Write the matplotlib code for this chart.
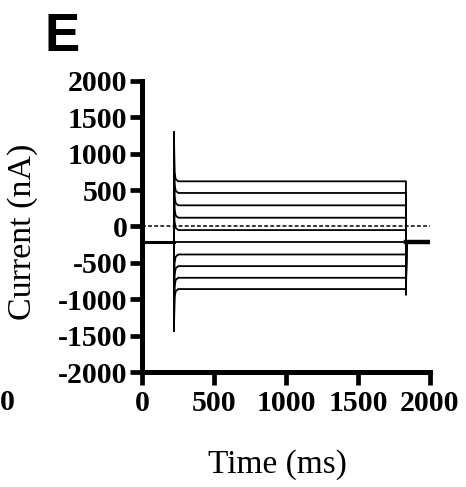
import matplotlib
matplotlib.use("Agg")
import matplotlib.pyplot as plt

# ---- data ----
x_ticks = [0, 500, 1000, 1500, 2000]
y_ticks = [-2000, -1500, -1000, -500, 0, 500, 1000, 1500, 2000]
holding_current = -220          # nA, before and after the step
step_on = 222                   # ms
step_off = 1833                 # ms
record_end = 2000               # ms
step_levels = [620, 460, 290, 120, -50, -385, -545, -705, -860]   # nA steady level during step
spike_peaks = [1300, 1150, 1000, 850, 700, -1100, -1250, -1350, -1440]  # capacitive transient peaks
off_peaks = [-300, -330, -360, -390, -420, -700, -780, -860, -940]   # tail at step end

fig = plt.figure(figsize=(4.66, 4.87), dpi=100)
ax = fig.add_axes([0.3047, 0.236, 0.618, 0.598])

serif = "Liberation Serif"

# holding trace (all sweeps overlap)
ax.plot([0, step_on], [holding_current, holding_current], color="black", lw=2.2, zorder=3)
ax.plot([step_off, record_end], [holding_current, holding_current], color="black", lw=3.2, zorder=3)
# zero-step sweep (holding level throughout)
ax.plot([step_on, step_off], [holding_current, holding_current], color="black", lw=1.3, zorder=3)

for lvl, pk, off in zip(step_levels, spike_peaks, off_peaks):
    sgn = 1 if lvl > holding_current else -1
    t = [step_on, step_on, step_on + 4, step_on + 12, step_on + 30, step_off, step_off, step_off + 6]
    v = [holding_current, pk, lvl + sgn * 120, lvl + sgn * 30, lvl, lvl, off, holding_current]
    ax.plot(t, v, color="black", lw=1.3, zorder=3)

# zero line
ax.plot([0, record_end], [0, 0], color="black", lw=1.1, ls=(0, (2.5, 1.5)), zorder=2)

ax.set_xlim(0, 2000)
ax.set_ylim(-2000, 2000)
ax.set_xticks(x_ticks)
ax.set_yticks(y_ticks)
ax.set_xticklabels([str(v) for v in x_ticks], fontfamily=serif, fontweight="bold", fontsize=21.5)
ax.set_yticklabels([str(v) for v in y_ticks], fontfamily=serif, fontweight="bold", fontsize=21.5)
for s in ["top", "right"]:
    ax.spines[s].set_visible(False)
for s in ["left", "bottom"]:
    ax.spines[s].set_linewidth(3.6)
    ax.spines[s].set_capstyle("projecting")
ax.tick_params(axis="both", length=9, width=3.4, color="black")
ax.tick_params(axis="y", pad=1.5)
ax.tick_params(axis="x", pad=4)

ax.set_xlabel("Time (ms)", fontfamily=serif, fontsize=24, va="top")
ax.xaxis.set_label_coords(0.469, -0.265)
ax.set_ylabel("Current (nA)", fontfamily=serif, fontsize=24.5, va="center")
ax.yaxis.set_label_coords(-0.415, 0.48)

fig.text(45 / 466, 1 - 51 / 487, "E", fontfamily="Liberation Sans", fontweight="bold",
         fontsize=38, ha="left", va="baseline")
fig.text(0 / 466, 1 - 402 / 487, "0", fontfamily=serif, fontweight="bold",
         fontsize=21.5, ha="left", va="center")

fig.savefig("out.png", dpi=100)
